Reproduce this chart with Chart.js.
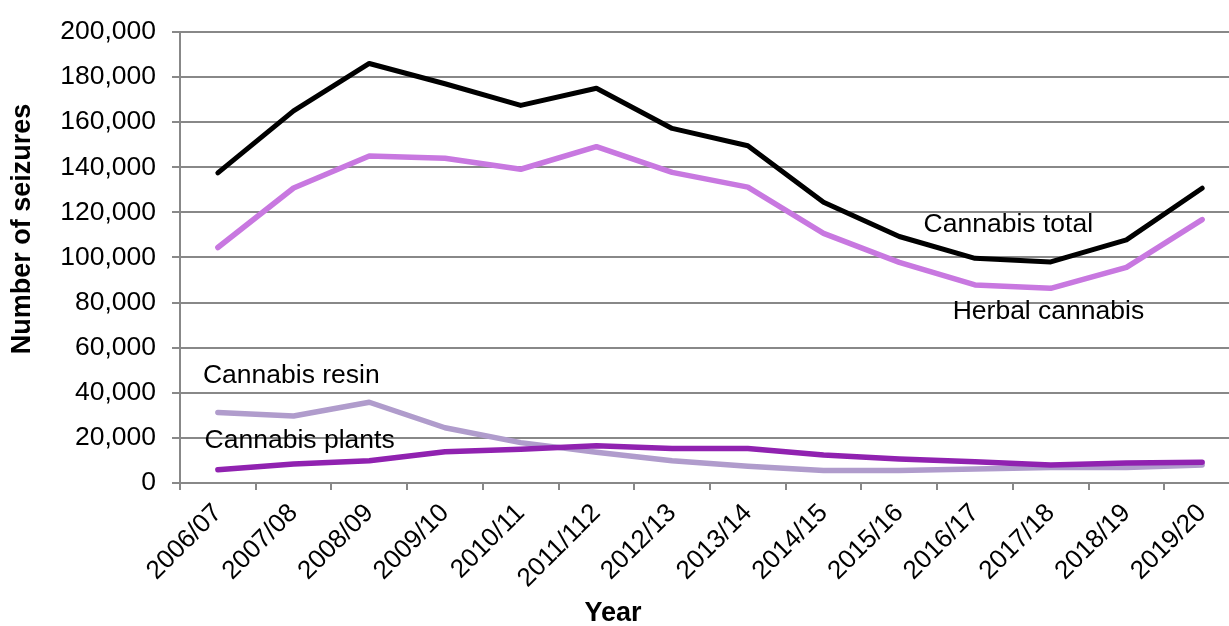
<!DOCTYPE html>
<html>
<head>
<meta charset="utf-8">
<script src="https://cdn.jsdelivr.net/npm/chart.js@4"></script>
<style>
  html, body { margin: 0; padding: 0; background: #fff; overflow: hidden; }
  canvas { display: block; }
</style>
</head>
<body>
<canvas id="seizuresChart" width="1240" height="626"></canvas>
<script>
// Financial years
const years = ['2006/07', '2007/08', '2008/09', '2009/10', '2010/11', '2011/112', '2012/13',
               '2013/14', '2014/15', '2015/16', '2016/17', '2017/18', '2018/19', '2019/20'];

// Seizures per year
const cannabisTotal = [137500, 165000, 186000, 177000, 167400, 175000, 157200, 149500, 124500, 109300, 99600, 98000, 107800, 130700];
const herbalCannabis = [104400, 130800, 145000, 144000, 139100, 149100, 137700, 131200, 110700, 97800, 87800, 86300, 95600, 116800];
const cannabisResin = [31300, 29700, 35800, 24500, 17900, 13600, 9900, 7400, 5500, 5500, 6200, 6900, 6900, 8000];
const cannabisPlants = [5900, 8400, 9900, 13900, 15000, 16500, 15300, 15300, 12400, 10600, 9400, 8000, 8900, 9200];

// Y axis ticks
const yTicks = [0, 20000, 40000, 60000, 80000, 100000, 120000, 140000, 160000, 180000, 200000];

const FONT = "'Liberation Sans', Arial, sans-serif";
const GRID = '#888888';

// Series labels placed next to the lines: [text, x index, y value]
const seriesLabels = [
    ['Cannabis total', 10.44, 114700],
    ['Herbal cannabis', 10.97, 76000],
    ['Cannabis resin', 0.97, 47500],
    ['Cannabis plants', 1.08, 18900]
];

const labelPlugin = {
    id: 'seriesLabels',
    afterDatasetsDraw(chart) {
        const { ctx, scales: { x, y } } = chart;
        ctx.save();
        ctx.font = '26.5px ' + FONT;
        ctx.fillStyle = '#000';
        ctx.textAlign = 'center';
        ctx.textBaseline = 'middle';
        seriesLabels.forEach(([text, i, v]) => {
            const px = x.getPixelForValue(0) + i * (x.getPixelForValue(1) - x.getPixelForValue(0));
            ctx.fillText(text, px, y.getPixelForValue(v));
        });
        // axis titles
        ctx.font = 'bold 27px ' + FONT;
        ctx.fillText('Year', 613, 614);
        ctx.translate(23, 229);
        ctx.rotate(-Math.PI / 2);
        ctx.fillText('Number of seizures', 0, 0);
        ctx.restore();
    }
};

function line(label, data, color, width) {
    return {
        label: label,
        data: data,
        borderColor: color,
        backgroundColor: color,
        borderWidth: width,
        pointRadius: 0,
        tension: 0,
        borderCapStyle: 'round',
        borderJoinStyle: 'round',
        fill: false
    };
}

const ctx = document.getElementById('seizuresChart').getContext('2d');
new Chart(ctx, {
    type: 'line',
    data: {
        labels: years,
        datasets: [
            line('Cannabis total', cannabisTotal, '#000000', 5),
            line('Herbal cannabis', herbalCannabis, '#c878e0', 5.5),
            line('Cannabis plants', cannabisPlants, '#9022b0', 5.5),
            line('Cannabis resin', cannabisResin, '#b09ccc', 5.5)
        ]
    },
    options: {
        responsive: false,
        animation: false,
        layout: { padding: { top: 28, right: 0, bottom: 0, left: 0 } },
        plugins: {
            legend: { display: false },
            tooltip: { enabled: false }
        },
        scales: {
            x: {
                offset: true,
                afterFit: (scale) => { scale.height = 143; },
                grid: {
                    drawOnChartArea: false,
                    drawTicks: true,
                    tickLength: 7,
                    color: GRID,
                    lineWidth: 2,
                    offset: true
                },
                border: { color: GRID, width: 2 },
                ticks: {
                    color: '#000',
                    font: { family: FONT, size: 26 },
                    maxRotation: 45,
                    minRotation: 45,
                    padding: 8,
                    autoSkip: false
                }
            },
            y: {
                min: 0,
                max: 200000,
                afterFit: (scale) => { scale.width = 180; },
                afterBuildTicks: (scale) => { scale.ticks = yTicks.map(v => ({ value: v })); },
                grid: {
                    color: GRID,
                    lineWidth: 2,
                    tickLength: 8
                },
                border: { color: GRID, width: 2 },
                ticks: {
                    color: '#000',
                    font: { family: FONT, size: 26.5 },
                    padding: 16,
                    callback: (v) => v.toLocaleString('en-US')
                }
            }
        }
    },
    plugins: [labelPlugin]
});
</script>
</body>
</html>
